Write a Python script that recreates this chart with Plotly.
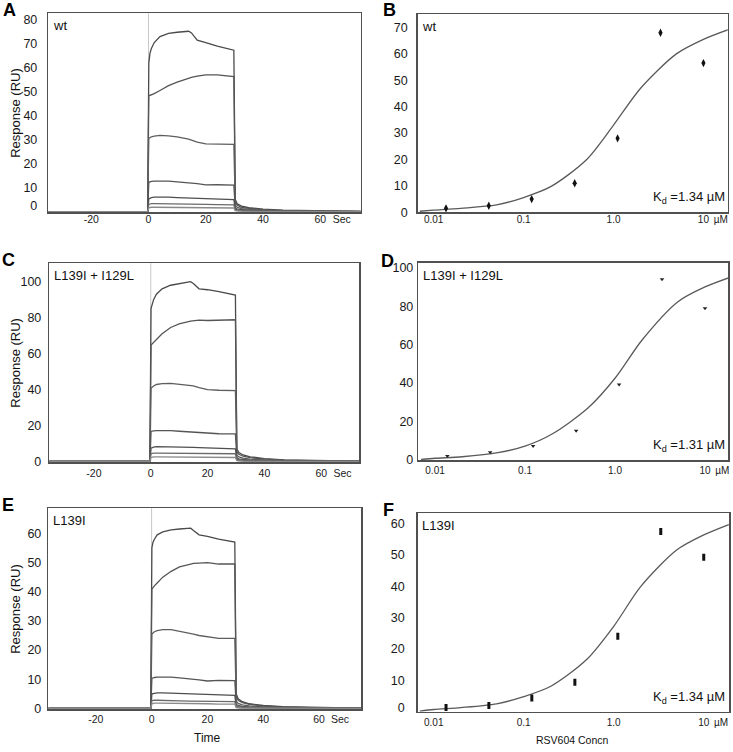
import plotly.graph_objects as go

# ---------------- data ----------------
time_s = [-37, -0.3, 0.1, 0.5, 1, 2, 4, 7, 10, 14, 15, 17, 20, 24, 29.8, 30.3, 31, 32.5, 35, 40, 47, 60, 75]

wt_traces = [
    [0, 0, 62, 66, 68, 70.5, 73, 74.3, 74.8, 75.2, 74.5, 71.5, 70.5, 69, 67.3, 5, 3.2, 2.3, 1.6, 1.0, 0.6, 0.3, 0.1],
    [0, 0, 48.3, 48.5, 48.6, 49.2, 50.5, 52.5, 54, 55.8, 56, 56.5, 57, 57, 56.3, 4, 2.6, 1.8, 1.3, 0.8, 0.4, 0.2, 0.1],
    [0, 0, 30.5, 31, 31.2, 31.5, 31.8, 31.6, 31.2, 30.2, 29.8, 29, 28.2, 28, 28, 2.6, 1.7, 1.2, 0.9, 0.5, 0.3, 0.1, 0.1],
    [0, 0, 12.2, 12.5, 12.6, 12.7, 12.8, 12.7, 12.4, 12.1, 12, 11.7, 11.1, 11.2, 11, 1.5, 1.0, 0.8, 0.6, 0.4, 0.2, 0.1, 0],
    [0, 0, 5.3, 5.6, 5.8, 6, 6.1, 6, 5.8, 5.6, 5.6, 5.5, 5.4, 5.2, 5, 0.9, 0.6, 0.5, 0.4, 0.2, 0.1, 0, 0],
    [0, 0, 3.0, 3.2, 3.3, 3.3, 3.3, 3.3, 3.2, 3.2, 3.2, 3.1, 3.0, 2.9, 2.8, 0.6, 0.4, 0.3, 0.2, 0.1, 0.1, 0, 0],
    [0, 0, 1.6, 1.8, 1.8, 1.8, 1.8, 1.8, 1.8, 1.7, 1.7, 1.7, 1.6, 1.6, 1.5, 0.4, 0.3, 0.2, 0.1, 0.1, 0, 0, 0],
]

dbl_traces = [
    [0, 0, 85, 88, 90, 93, 96, 98, 99, 100, 99, 96, 95.5, 94.5, 92.5, 7, 5, 3.6, 2.6, 1.6, 0.9, 0.4, 0.2],
    [0, 0, 64.8, 65.5, 66, 68, 71, 74.5, 76.5, 78, 78.3, 78.6, 78.4, 78.5, 78.8, 5.5, 4, 2.9, 2.1, 1.3, 0.7, 0.3, 0.2],
    [0, 0, 40.7, 41.5, 42, 42.8, 43.3, 43.4, 43, 42.3, 42, 41, 40, 39.6, 39.4, 3.5, 2.5, 1.8, 1.3, 0.8, 0.4, 0.2, 0.1],
    [0, 0, 16.7, 16.9, 17, 17.1, 17.2, 17.1, 16.8, 16.4, 16.2, 16, 15.5, 15.4, 15.3, 2, 1.4, 1.0, 0.7, 0.4, 0.2, 0.1, 0],
    [0, 0, 7.4, 7.8, 8.0, 8.2, 8.2, 8.2, 8.0, 7.9, 7.8, 7.7, 7.5, 7.2, 7.0, 1.2, 0.8, 0.6, 0.4, 0.2, 0.1, 0, 0],
    [0, 0, 4.3, 4.5, 4.6, 4.6, 4.6, 4.6, 4.5, 4.5, 4.5, 4.4, 4.4, 4.3, 4.3, 0.8, 0.5, 0.4, 0.3, 0.1, 0.1, 0, 0],
    [0, 0, 2.2, 2.4, 2.5, 2.5, 2.5, 2.5, 2.4, 2.4, 2.4, 2.3, 2.3, 2.2, 2.2, 0.5, 0.3, 0.2, 0.1, 0.1, 0, 0, 0],
]

l139_traces = [
    [0, 0, 55, 57, 58, 59.5, 60.5, 61.2, 61.5, 61.8, 61, 59.5, 59, 58, 57, 5, 3.3, 2.3, 1.6, 1.0, 0.6, 0.3, 0.1],
    [0, 0, 40.9, 41.5, 42, 43, 45, 47, 48.5, 49.5, 49.7, 49.8, 50, 49.5, 49.5, 4.2, 2.8, 2.0, 1.4, 0.8, 0.5, 0.2, 0.1],
    [0, 0, 25.5, 26, 26.3, 26.7, 27, 27, 26.5, 25.8, 25.5, 25, 24.5, 24, 24, 2.5, 1.7, 1.2, 0.9, 0.5, 0.3, 0.1, 0.1],
    [0, 0, 10.3, 10.5, 10.6, 10.7, 10.8, 10.7, 10.5, 10.2, 10, 9.8, 9.4, 9.6, 9.5, 1.4, 1.0, 0.7, 0.5, 0.3, 0.2, 0.1, 0],
    [0, 0, 5.0, 5.1, 5.2, 5.3, 5.3, 5.2, 5.1, 5.0, 4.9, 4.8, 4.7, 4.6, 4.5, 0.8, 0.5, 0.4, 0.3, 0.2, 0.1, 0, 0],
    [0, 0, 2.7, 2.8, 2.8, 2.8, 2.8, 2.7, 2.6, 2.5, 2.5, 2.4, 2.4, 2.3, 2.3, 0.5, 0.3, 0.2, 0.2, 0.1, 0, 0, 0],
    [0, 0, 1.6, 1.7, 1.8, 1.8, 1.8, 1.8, 1.7, 1.7, 1.7, 1.6, 1.6, 1.5, 1.5, 0.3, 0.2, 0.1, 0.1, 0.1, 0, 0, 0],
]

conc_uM = [0.0137, 0.041, 0.123, 0.37, 1.11, 3.33, 10.0]
wt_resp = [1.5, 2.5, 5.0, 11.0, 28.0, 68.0, 56.5]
dbl_resp = [2.1, 4.0, 7.3, 15.2, 39.3, 94.0, 78.9]
l139_resp = [1.3, 2.0, 4.4, 9.4, 24.0, 57.4, 49.2]

fit_conc = [0.007, 0.01, 0.02, 0.05, 0.1, 0.2, 0.5, 1.0, 2.0, 5.0, 10.0, 19.0]
wt_fit = [0.4, 0.8, 1.5, 2.8, 5.6, 9.7, 19.9, 33.0, 47.0, 60.0, 65.5, 69.2]
dbl_fit = [0.3, 0.9, 1.7, 3.8, 7.2, 13.5, 27.0, 42.5, 62.4, 82.3, 90.0, 95.0]
l139_fit = [0.2, 0.7, 1.3, 2.5, 4.8, 8.1, 16.6, 27.2, 39.9, 51.5, 56.3, 59.6]

kd_labels = ["1.34", "1.31", "1.34"]
panel_names = ["wt", "L139I + I129L", "L139I"]
time_ticks = [-20, 0, 20, 40, 60]
conc_ticks = [0.01, 0.1, 1, 10]
conc_ticktext = ["0.01", "0.1", "1.0", "10"]
trace_colors = ["#4a4a4a", "#555555", "#5e5e5e", "#555555", "#4f4f4f", "#6a6a6a", "#8a8a8a"]

# ---------------- layout geometry ----------------
W, H = 733, 752
def xd(a, b):
    return [a / W, b / W]
def yd(top, bot):
    return [1 - bot / H, 1 - top / H]
def sfx(n):
    return "" if n == 1 else str(n)

FONT = "Arial, Liberation Sans, sans-serif"
FRAME = "#505050"
TXT = "#1a1a1a"

fig = go.Figure()

left_sets = [wt_traces, dbl_traces, l139_traces]
right_sets = [(wt_resp, wt_fit, dict(symbol="diamond-tall", size=6, color="#111")),
              (dbl_resp, dbl_fit, dict(symbol="triangle-down", size=4, color="#222")),
              (l139_resp, l139_fit, dict(symbol="line-ns", size=5, color="#111",
                                          line=dict(width=3, color="#111")))]

for i in range(3):
    nl, nr = 2 * i + 1, 2 * i + 2
    xl, yl = "x" + sfx(nl), "y" + sfx(nl)
    xr, yr = "x" + sfx(nr), "y" + sfx(nr)
    for k, tr in enumerate(left_sets[i]):
        fig.add_trace(go.Scatter(x=time_s, y=tr, mode="lines", xaxis=xl, yaxis=yl,
                                 line=dict(color=trace_colors[k], width=1.3),
                                 showlegend=False, hoverinfo="skip"))
    resp, fit, mk = right_sets[i]
    fig.add_trace(go.Scatter(x=fit_conc, y=fit, mode="lines", xaxis=xr, yaxis=yr,
                             line=dict(color="#5a5a5a", width=1.3, shape="spline", smoothing=0.8),
                             showlegend=False, hoverinfo="skip"))
    fig.add_trace(go.Scatter(x=conc_uM, y=resp, mode="markers", xaxis=xr, yaxis=yr,
                             marker=mk, showlegend=False, hoverinfo="skip"))

# domains: (x0, x1, ytop, ybot) in pixels
left_geo = [(48.3, 360.7, 13.3, 212.3), (49.3, 359.3, 263.3, 462.0), (48.3, 361.0, 508.3, 709.3)]
right_geo = [(417.7, 727.7, 14.0, 212.3), (418.3, 728.3, 262.7, 460.0), (417.7, 729.3, 513.3, 711.7)]
left_xr = [[-35, 74.1], [-35.7, 73.4], [-37, 75]]
left_yr = [[-0.3, 82.7], [-0.3, 110.2], [-0.3, 68.6]]
left_dt = [10, 20, 10]
left_ymax = [80, 100, 60]
left_zero_pos = [2.5, 0, 0]       # where the "0" label sits in the reference
right_xr = [[-2.178, 1.27], [-2.186, 1.259], [-2.178, 1.284]]
right_yr = [[0, 75.1], [0, 102.6], [0, 63.2]]
right_dt = [10, 20, 10]
right_ymax = [70, 100, 60]
right_zero_pos = [0, 0, 1.2]
left_xstd = [-3, 1, 0]
right_xstd = [-3, 0, 1]
left_ystd = [7, 4, 3]
right_ystd = [6, 1, 9]

axis_common = dict(showgrid=False, zeroline=False, showline=True, linecolor=FRAME,
                   linewidth=1.5, mirror=True, ticks="", automargin=False, tickangle=0,
                   fixedrange=True)

ann = []
shapes = []
for i in range(3):
    nl, nr = 2 * i + 1, 2 * i + 2
    sl, sr = sfx(nl), sfx(nr)
    x0, x1, yt, yb = left_geo[i]
    fig.layout["xaxis" + sl] = dict(domain=xd(x0, x1), range=left_xr[i], anchor="y" + sl,
                                    tickvals=time_ticks + [67.5],
                                    ticktext=[str(v) for v in time_ticks] + ["Sec"],
                                    tickfont=dict(family=FONT, size=10.5, color=TXT),
                                    ticklabelstandoff=left_xstd[i], **axis_common)
    yv = list(range(0, left_ymax[i] + 1, left_dt[i]))
    fig.layout["yaxis" + sl] = dict(domain=yd(yt, yb), range=left_yr[i], anchor="x" + sl,
                                    tickvals=[left_zero_pos[i]] + yv[1:],
                                    ticktext=[str(v) for v in yv],
                                    tickfont=dict(family=FONT, size=12.5, color=TXT),
                                    ticklabelstandoff=left_ystd[i], **axis_common)
    x0, x1, yt, yb = right_geo[i]
    fig.layout["xaxis" + sr] = dict(domain=xd(x0, x1), range=right_xr[i], type="log",
                                    anchor="y" + sr,
                                    tickvals=conc_ticks + [15.6],
                                    ticktext=conc_ticktext + ["µM"],
                                    tickfont=dict(family=FONT, size=10, color=TXT),
                                    ticklabelstandoff=right_xstd[i], **axis_common)
    yv = list(range(0, right_ymax[i] + 1, right_dt[i]))
    fig.layout["yaxis" + sr] = dict(domain=yd(yt, yb), range=right_yr[i], anchor="x" + sr,
                                    tickvals=[right_zero_pos[i]] + yv[1:],
                                    ticktext=[str(v) for v in yv],
                                    tickfont=dict(family=FONT, size=12.5, color=TXT),
                                    ticklabelstandoff=right_ystd[i], **axis_common)

    # injection marker at t = 0
    shapes.append(dict(type="line", xref="x" + sl, yref="y" + sl + " domain", x0=0, x1=0, y0=0, y1=1,
                       line=dict(color="#c8c8c8", width=1), layer="below"))

    for s in (sl, sr):
        ann.append(dict(text=panel_names[i], xref="x" + s + " domain", yref="y" + s + " domain",
                        x=0.008, y=0.985, xanchor="left", yanchor="top", showarrow=False,
                        font=dict(family=FONT, size=13, color="#111")))
    # Kd label
    ann.append(dict(text=f"K<sub>d</sub> ={kd_labels[i]} µM", xref="paper",
                    yref="y" + sr + " domain", x=651 / W, y=0.02, xanchor="left", yanchor="bottom",
                    showarrow=False, font=dict(family=FONT, size=13, color="#111")))
    # y title
    yc = (left_geo[i][2] + left_geo[i][3]) / 2
    ann.append(dict(text="Response (RU)", xref="paper", yref="paper", x=16 / W, y=1 - yc / H,
                    textangle=-90, showarrow=False, xanchor="center", yanchor="middle",
                    font=dict(family=FONT, size=13, color="#111")))

# panel letters
letters = [("A", 1, 0), ("B", 381, 0), ("C", 0, 250), ("D", 379, 251), ("E", 0, 495), ("F", 381, 500)]
for t, px, py in letters:
    ann.append(dict(text=f"<b>{t}</b>", xref="paper", yref="paper", x=px / W, y=1 - (py - 2) / H,
                    xanchor="left", yanchor="top", showarrow=False,
                    font=dict(family=FONT, size=18, color="#000")))

# axis titles
ann.append(dict(text="Time", xref="paper", yref="paper", x=207 / W, y=1 - 738 / H,
                showarrow=False, xanchor="center", yanchor="middle",
                font=dict(family=FONT, size=12, color="#111")))
ann.append(dict(text="RSV604 Concn", xref="paper", yref="paper", x=572 / W, y=1 - 740 / H,
                showarrow=False, xanchor="center", yanchor="middle",
                font=dict(family=FONT, size=10.5, color="#111")))

fig.update_layout(width=W, height=H, margin=dict(l=0, r=0, t=0, b=0),
                  paper_bgcolor="white", plot_bgcolor="white",
                  annotations=ann, shapes=shapes, showlegend=False,
                  font=dict(family=FONT), hovermode=False)

fig.write_html("out.html", config={"displayModeBar": False, "staticPlot": True},
               post_script="document.body.style.margin='0px';")
